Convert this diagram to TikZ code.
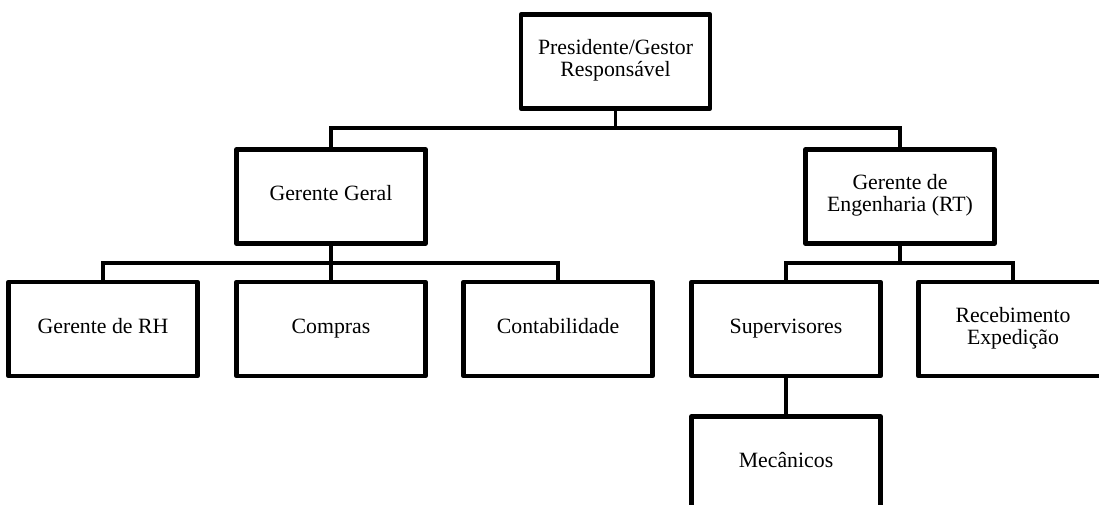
\documentclass[tikz,border=0pt]{standalone}
\usepackage{fontspec}
\setmainfont{Liberation Serif}
\begin{document}
\begin{tikzpicture}[x=1pt,y=1pt,
  box/.style={draw, line width=4.5pt, minimum width=189pt, minimum height=94pt,
    align=center, inner sep=0pt, font=\fontsize{21.8}{22}\selectfont, line join=round,
    execute at begin node={\strut}, execute at end node={\strut}},
  link/.style={line width=3.8pt}]
\useasboundingbox (0,0) rectangle (1099,505);
\clip (0,0) rectangle (1099,505);
% boxes
\node[box] (pres) at (615.5,443.5) {Presidente/Gestor\\Responsável};
\node[box] (gg) at (331,308.5) {Gerente Geral};
\node[box] (ge) at (900,308.5) {Gerente de\\Engenharia (RT)};
\node[box] (rh) at (103,176) {Gerente de RH};
\node[box] (comp) at (331,176) {Compras};
\node[box] (cont) at (558,176) {Contabilidade};
\node[box] (sup) at (786,176) {Supervisores};
\node[box] (rec) at (1013,176) {Recebimento\\Expedição};
\node[box] (mec) at (786,41.5) {Mecânicos};
% bus coordinates
\coordinate (b1) at (615.5,377);
\coordinate (b2) at (331,242);
\coordinate (b3) at (900,242);
% connectors
\draw[link] (pres.south) -- (b1);
\draw[link] (gg.north) |- (b1) -| (ge.north);
\draw[link] (gg.south) -- (comp.north);
\draw[link] (rh.north) |- (b2) -| (cont.north);
\draw[link] (ge.south) -- (b3);
\draw[link] (sup.north) |- (b3) -| (rec.north);
\draw[link] (sup.south) -- (mec.north);
\end{tikzpicture}
\end{document}
